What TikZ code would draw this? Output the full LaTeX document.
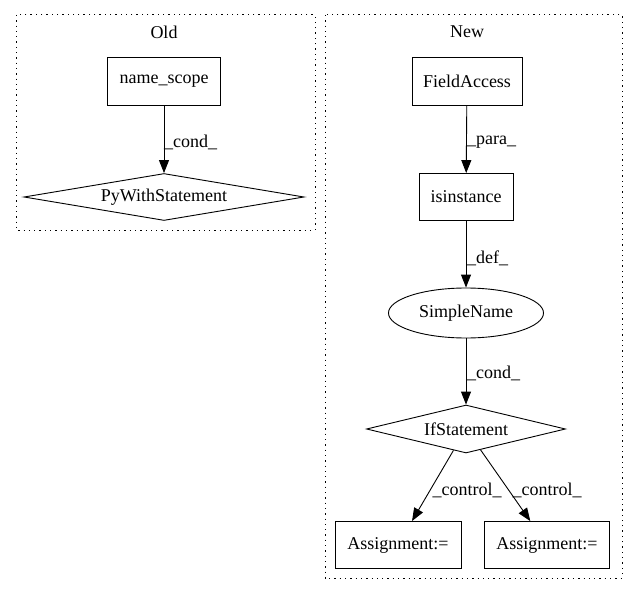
\documentclass[tikz,border=0pt]{standalone}
\usepackage{fontspec}
\setmainfont{Liberation Serif}
\usepackage{tikz}
\usetikzlibrary{arrows.meta,shapes.geometric}

\tikzset{
  box/.style={draw,line width=0.9pt,rectangle,minimum height=48pt,inner sep=0pt},
  cond/.style={draw,line width=0.9pt,diamond,inner sep=1pt,aspect=6},
  elabel/.style={anchor=west,inner sep=0pt},
  cluster/.style={line width=1pt,dash pattern=on 1.3pt off 4pt}
}

\begin{document}
\begin{tikzpicture}[line cap=butt,line join=miter,>={Triangle[length=13pt,width=10pt]},x=1pt,y=-1pt,font=\fontsize{18}{20}\selectfont]
\useasboundingbox (0,0) rectangle (637,596);
% clusters
\draw [cluster] (16,15) rectangle (315,230);
\draw [cluster] (325,15) rectangle (622,578);
\node (old) at (164,32) {Old};
\node (new) at (467,32) {New};
% old graph
\node [box,minimum width=113pt] (namescope) at (164,81) {name\_scope};
\node [cond,minimum width=280pt,minimum height=47pt] (pywith) at (164,197) {PyWithStatement};
\draw [->,line width=0.9pt] (namescope) -- (pywith);
\node [elabel] (lcond) at (164,142) {\_cond\_};
% new graph
\node [box,minimum width=110pt] (fieldaccess) at (467,81) {FieldAccess};
\node [box,minimum width=94pt,minimum height=47pt] (isinst) at (466,197) {isinstance};
\node [draw,line width=0.9pt,ellipse,minimum width=155pt,minimum height=50pt,inner sep=0pt] (simplename) at (466,313) {SimpleName};
\node [cond,minimum width=199pt,minimum height=48pt] (ifstmt) at (466,429) {IfStatement};
\node [box,minimum width=126pt,minimum height=47pt] (assignA) at (398,545) {Assignment:=};
\node [box,minimum width=125pt,minimum height=47pt] (assignB) at (547,545) {Assignment:=};
\draw [->,line width=0.9pt] (fieldaccess) -- (isinst);
\draw [->,line width=0.9pt] (isinst) -- (simplename);
\draw [->,line width=0.9pt] (simplename) -- (ifstmt);
\draw [->,line width=0.9pt] (ifstmt) -- (assignA);
\draw [->,line width=0.9pt] (ifstmt) -- (assignB);
\node [elabel] (lpara) at (467,142) {\_para\_};
\node [elabel] (ldef) at (467,258) {\_def\_};
\node [elabel] (lcond2) at (467,373) {\_cond\_};
\node (lctrlA) at (467,490) {\_control\_};
\node (lctrlB) at (547,490) {\_control\_};
\end{tikzpicture}
\end{document}
